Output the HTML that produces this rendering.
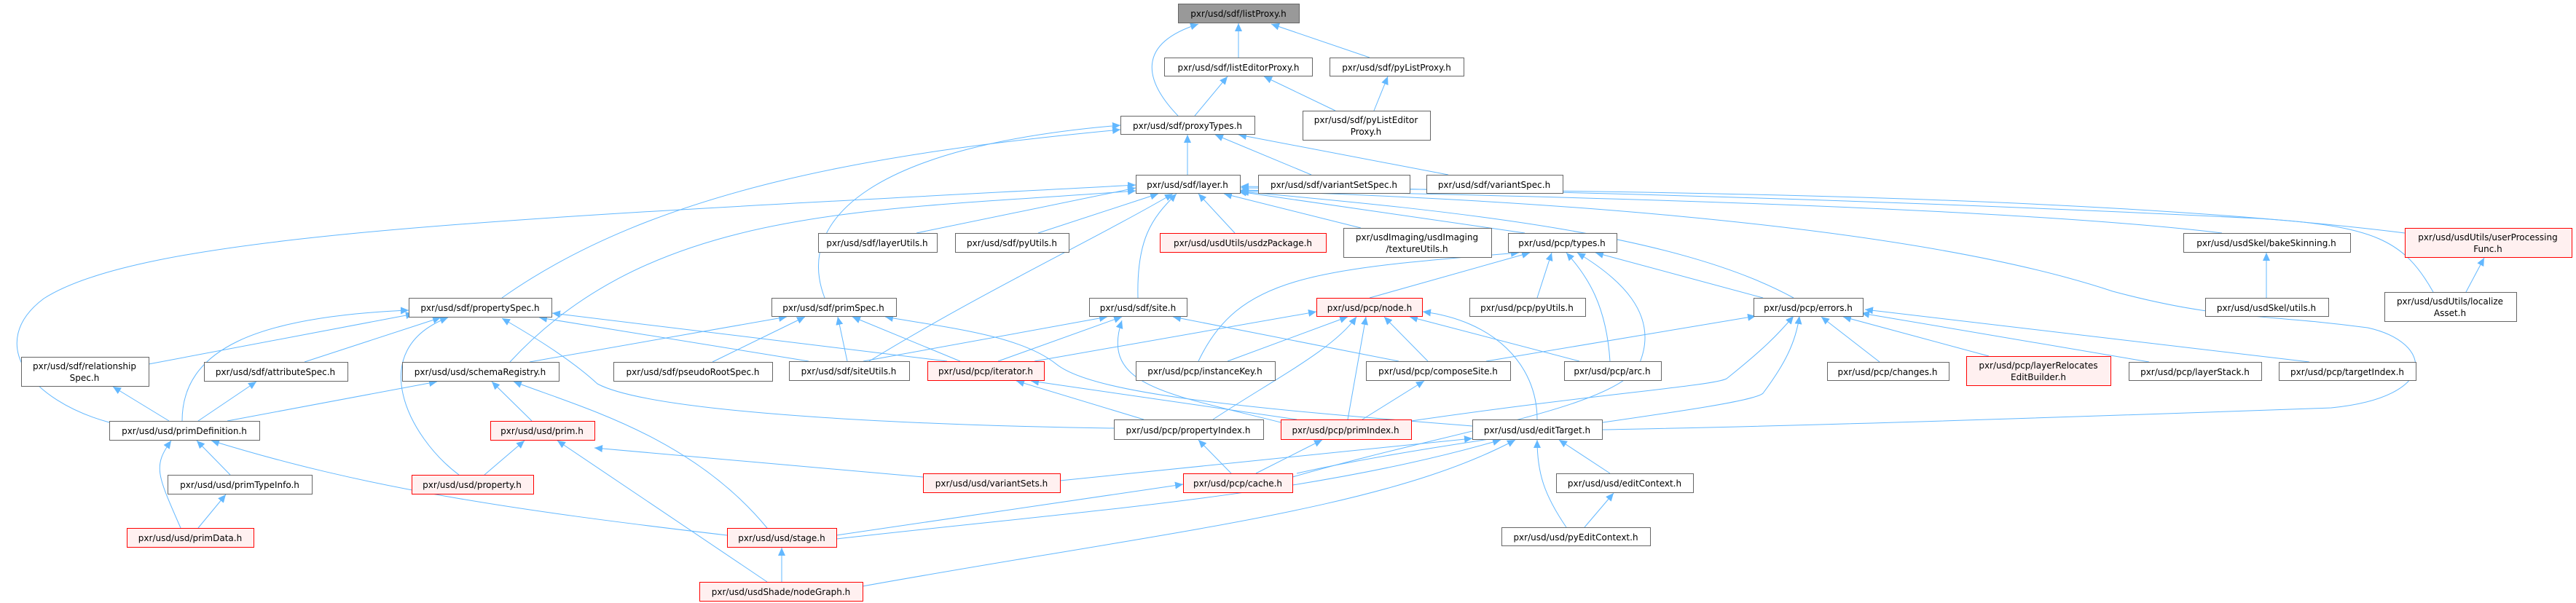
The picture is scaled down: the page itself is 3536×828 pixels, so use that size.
<!DOCTYPE html>
<html><head><meta charset="utf-8"><style>
html,body{margin:0;padding:0;background:#fff;}
svg{display:block;}
text{font-family:"DejaVu Sans","Liberation Sans",sans-serif;font-size:12px;fill:#000;text-anchor:middle;}
.n{fill:#fff;stroke:#666;stroke-width:1;}
.r{fill:#fff0f0;stroke:#f00;stroke-width:1;}
.g{fill:#999;stroke:#666;stroke-width:1;}
.e path{fill:none;stroke:#63b8ff;stroke-width:1;marker-end:url(#a);}
</style></head><body>
<svg width="3536" height="828" viewBox="0 0 3536 828" xmlns="http://www.w3.org/2000/svg">
<defs><marker id="a" markerUnits="userSpaceOnUse" markerWidth="12" markerHeight="10" refX="11" refY="5" orient="auto"><path d="M0,0 L11,5 L0,10 z" fill="#63b8ff"/></marker></defs>
<g class="e">
<path d="M1700 79 L1700 32"/>
<path d="M1880 79 L1745 33"/>
<path d="M1617 159 C1570 110 1560 60 1645 33"/>
<path d="M1640 159 L1685 105"/>
<path d="M1833 152 L1735 105"/>
<path d="M1886 152 L1905 105"/>
<path d="M1630 240 L1630 185"/>
<path d="M1800 240 L1668 185"/>
<path d="M1988 240 L1700 185"/>
<path d="M689 409 C900 260 1200 210 1538 178"/>
<path d="M1132 409 C1090 300 1200 200 1538 172"/>
<path d="M1258 320 L1559 258"/>
<path d="M1425 320 L1590 266"/>
<path d="M1695 320 L1645 266"/>
<path d="M1868 313 L1680 266"/>
<path d="M2093 320 L1700 263"/>
<path d="M1562 409 C1560 330 1580 300 1615 266"/>
<path d="M1193 496 C1350 400 1500 330 1610 266"/>
<path d="M700 497 C900 280 1200 290 1559 262"/>
<path d="M150 580 C40 550 -20 470 60 410 C200 320 700 300 1559 254"/>
<path d="M2199 590 C2300 588 2500 585 3200 560 C3350 545 3340 470 3250 450 C3100 430 3050 440 2900 400 C2600 300 2000 270 1703 262"/>
<path d="M2462 409 C2300 320 2000 290 1703 263"/>
<path d="M3050 320 C2800 290 2300 272 1703 261"/>
<path d="M3301 320 C2900 270 2300 262 1703 258"/>
<path d="M3340 401 C3300 330 3260 310 3100 300 C2700 280 2200 262 1703 256"/>
<path d="M204 500 L568 431"/>
<path d="M418 497 L605 436"/>
<path d="M250 578 C250 480 350 435 561 426"/>
<path d="M630 652 C560 600 500 480 615 436"/>
<path d="M1110 496 L740 436"/>
<path d="M1300 496 L758 430"/>
<path d="M1529 588 C1300 585 900 570 820 527 C780 490 720 455 689 437"/>
<path d="M727 497 L1080 435"/>
<path d="M978 497 L1105 435"/>
<path d="M1163 496 L1150 435"/>
<path d="M1318 496 L1170 435"/>
<path d="M2021 585 C1700 560 1500 540 1450 500 C1400 460 1300 450 1215 435"/>
<path d="M312 578 L600 524"/>
<path d="M730 578 L675 524"/>
<path d="M1053 725 C950 600 800 560 705 524"/>
<path d="M316 652 L270 605"/>
<path d="M248 725 C215 650 210 640 235 605"/>
<path d="M998 735 C700 700 500 670 290 605"/>
<path d="M272 725 L310 679"/>
<path d="M232 578 L155 531"/>
<path d="M272 578 L352 524"/>
<path d="M665 652 L720 605"/>
<path d="M1053 799 L765 605"/>
<path d="M1267 655 L816 615"/>
<path d="M1073 799 L1073 752"/>
<path d="M1148 735 L1624 665"/>
<path d="M1148 740 C1500 700 1800 680 2060 604"/>
<path d="M1184 805 C1600 730 1900 700 2080 604"/>
<path d="M1185 496 L1520 435"/>
<path d="M1370 496 L1540 435"/>
<path d="M1920 496 L1610 435"/>
<path d="M1758 580 C1600 540 1510 530 1540 440"/>
<path d="M1880 409 L2100 347"/>
<path d="M1645 496 C1700 380 1800 370 2085 347"/>
<path d="M2110 409 L2130 347"/>
<path d="M2210 496 C2205 420 2180 380 2150 347"/>
<path d="M2420 409 L2190 347"/>
<path d="M1774 655 C2000 590 2220 560 2250 500 C2280 430 2220 380 2165 347"/>
<path d="M1420 496 L1807 428"/>
<path d="M1685 496 L1850 435"/>
<path d="M1960 496 L1900 435"/>
<path d="M2168 496 L1935 435"/>
<path d="M1665 576 C1750 520 1830 480 1862 435"/>
<path d="M1850 576 L1875 435"/>
<path d="M2110 576 C2110 500 2050 440 1953 428"/>
<path d="M2580 497 L2500 435"/>
<path d="M2730 489 L2530 435"/>
<path d="M2950 497 L2555 430"/>
<path d="M3170 497 L2560 425"/>
<path d="M2040 496 L2410 434"/>
<path d="M1937 578 C2200 540 2350 530 2370 520 C2420 480 2440 460 2462 434"/>
<path d="M1780 650 C2000 600 2400 560 2420 540 C2450 500 2465 470 2470 434"/>
<path d="M1570 576 L1395 523"/>
<path d="M1780 576 L1415 523"/>
<path d="M1870 576 L1955 523"/>
<path d="M1690 650 L1645 604"/>
<path d="M1724 650 L1815 604"/>
<path d="M1455 660 L2021 602"/>
<path d="M2210 650 L2140 604"/>
<path d="M2150 724 C2120 680 2110 650 2110 604"/>
<path d="M2175 724 L2215 677"/>
<path d="M3111 409 L3111 347"/>
<path d="M3385 401 L3410 354"/>
</g>
<g>
<rect class="g" x="1617.5" y="5.5" width="166" height="26"/><text x="1700" y="23">pxr/usd/sdf/listProxy.h</text>
<rect class="n" x="1598.5" y="79.5" width="203" height="25"/><text x="1700" y="97">pxr/usd/sdf/listEditorProxy.h</text>
<rect class="n" x="1825.5" y="79.5" width="184" height="25"/><text x="1917" y="97">pxr/usd/sdf/pyListProxy.h</text>
<rect class="n" x="1538.5" y="159.5" width="184" height="25"/><text x="1630" y="177">pxr/usd/sdf/proxyTypes.h</text>
<rect class="n" x="1788.5" y="152.5" width="175" height="40"/><text x="1875" y="169">pxr/usd/sdf/pyListEditor</text><text x="1875" y="185">Proxy.h</text>
<rect class="n" x="1559.5" y="240.5" width="143" height="25"/><text x="1630" y="258">pxr/usd/sdf/layer.h</text>
<rect class="n" x="1727.5" y="240.5" width="208" height="25"/><text x="1831" y="258">pxr/usd/sdf/variantSetSpec.h</text>
<rect class="n" x="1958.5" y="240.5" width="187" height="25"/><text x="2051" y="258">pxr/usd/sdf/variantSpec.h</text>
<rect class="n" x="561.5" y="409.5" width="196" height="26"/><text x="659" y="427">pxr/usd/sdf/propertySpec.h</text>
<rect class="n" x="1059.5" y="409.5" width="171" height="25"/><text x="1144" y="427">pxr/usd/sdf/primSpec.h</text>
<rect class="n" x="1123.5" y="320.5" width="163" height="26"/><text x="1204" y="338">pxr/usd/sdf/layerUtils.h</text>
<rect class="n" x="1311.5" y="320.5" width="156" height="26"/><text x="1389" y="338">pxr/usd/sdf/pyUtils.h</text>
<rect class="r" x="1592.5" y="320.5" width="228" height="26"/><text x="1706" y="338">pxr/usd/usdUtils/usdzPackage.h</text>
<rect class="n" x="1844.5" y="313.5" width="203" height="40"/><text x="1945" y="330">pxr/usdImaging/usdImaging</text><text x="1945" y="346">/textureUtils.h</text>
<rect class="n" x="2070.5" y="320.5" width="149" height="26"/><text x="2144" y="338">pxr/usd/pcp/types.h</text>
<rect class="n" x="2997.5" y="320.5" width="229" height="26"/><text x="3111" y="338">pxr/usd/usdSkel/bakeSkinning.h</text>
<rect class="r" x="3301.5" y="313.5" width="229" height="40"/><text x="3415" y="330">pxr/usd/usdUtils/userProcessing</text><text x="3415" y="346">Func.h</text>
<rect class="n" x="1495.5" y="409.5" width="134" height="25"/><text x="1562" y="427">pxr/usd/sdf/site.h</text>
<rect class="r" x="1807.5" y="409.5" width="145" height="25"/><text x="1880" y="427">pxr/usd/pcp/node.h</text>
<rect class="n" x="2017.5" y="409.5" width="159" height="25"/><text x="2096" y="427">pxr/usd/pcp/pyUtils.h</text>
<rect class="n" x="2407.5" y="409.5" width="150" height="25"/><text x="2482" y="427">pxr/usd/pcp/errors.h</text>
<rect class="n" x="3027.5" y="409.5" width="169" height="25"/><text x="3111" y="427">pxr/usd/usdSkel/utils.h</text>
<rect class="n" x="3273.5" y="401.5" width="181" height="40"/><text x="3363" y="418">pxr/usd/usdUtils/localize</text><text x="3363" y="434">Asset.h</text>
<rect class="n" x="29.5" y="490.5" width="175" height="40"/><text x="116" y="507">pxr/usd/sdf/relationship</text><text x="116" y="523">Spec.h</text>
<rect class="n" x="280.5" y="497.5" width="197" height="26"/><text x="378" y="515">pxr/usd/sdf/attributeSpec.h</text>
<rect class="n" x="552.5" y="497.5" width="215" height="26"/><text x="659" y="515">pxr/usd/usd/schemaRegistry.h</text>
<rect class="n" x="842.5" y="497.5" width="218" height="26"/><text x="951" y="515">pxr/usd/sdf/pseudoRootSpec.h</text>
<rect class="n" x="1083.5" y="496.5" width="165" height="26"/><text x="1165" y="514">pxr/usd/sdf/siteUtils.h</text>
<rect class="r" x="1273.5" y="496.5" width="160" height="26"/><text x="1353" y="514">pxr/usd/pcp/iterator.h</text>
<rect class="n" x="1559.5" y="496.5" width="191" height="26"/><text x="1654" y="514">pxr/usd/pcp/instanceKey.h</text>
<rect class="n" x="1875.5" y="496.5" width="198" height="26"/><text x="1974" y="514">pxr/usd/pcp/composeSite.h</text>
<rect class="n" x="2147.5" y="496.5" width="133" height="26"/><text x="2213" y="514">pxr/usd/pcp/arc.h</text>
<rect class="n" x="2508.5" y="497.5" width="167" height="25"/><text x="2591" y="515">pxr/usd/pcp/changes.h</text>
<rect class="r" x="2699.5" y="489.5" width="198" height="40"/><text x="2798" y="506">pxr/usd/pcp/layerRelocates</text><text x="2798" y="522">EditBuilder.h</text>
<rect class="n" x="2922.5" y="497.5" width="182" height="25"/><text x="3013" y="515">pxr/usd/pcp/layerStack.h</text>
<rect class="n" x="3128.5" y="497.5" width="188" height="25"/><text x="3222" y="515">pxr/usd/pcp/targetIndex.h</text>
<rect class="n" x="150.5" y="578.5" width="206" height="26"/><text x="253" y="596">pxr/usd/usd/primDefinition.h</text>
<rect class="r" x="673.5" y="578.5" width="143" height="26"/><text x="744" y="596">pxr/usd/usd/prim.h</text>
<rect class="n" x="1529.5" y="576.5" width="205" height="27"/><text x="1631" y="595">pxr/usd/pcp/propertyIndex.h</text>
<rect class="r" x="1758.5" y="576.5" width="179" height="27"/><text x="1847" y="595">pxr/usd/pcp/primIndex.h</text>
<rect class="n" x="2021.5" y="576.5" width="178" height="27"/><text x="2110" y="595">pxr/usd/usd/editTarget.h</text>
<rect class="n" x="230.5" y="652.5" width="198" height="26"/><text x="329" y="670">pxr/usd/usd/primTypeInfo.h</text>
<rect class="r" x="565.5" y="652.5" width="167" height="26"/><text x="648" y="670">pxr/usd/usd/property.h</text>
<rect class="r" x="1267.5" y="650.5" width="188" height="26"/><text x="1361" y="668">pxr/usd/usd/variantSets.h</text>
<rect class="r" x="1624.5" y="650.5" width="150" height="26"/><text x="1699" y="668">pxr/usd/pcp/cache.h</text>
<rect class="n" x="2136.5" y="650.5" width="188" height="26"/><text x="2230" y="668">pxr/usd/usd/editContext.h</text>
<rect class="r" x="174.5" y="725.5" width="174" height="26"/><text x="261" y="743">pxr/usd/usd/primData.h</text>
<rect class="r" x="998.5" y="725.5" width="150" height="26"/><text x="1073" y="743">pxr/usd/usd/stage.h</text>
<rect class="n" x="2061.5" y="724.5" width="204" height="25"/><text x="2163" y="742">pxr/usd/usd/pyEditContext.h</text>
<rect class="r" x="960.5" y="799.5" width="224" height="26"/><text x="1072" y="817">pxr/usd/usdShade/nodeGraph.h</text>
</g>
</svg>
</body></html>
